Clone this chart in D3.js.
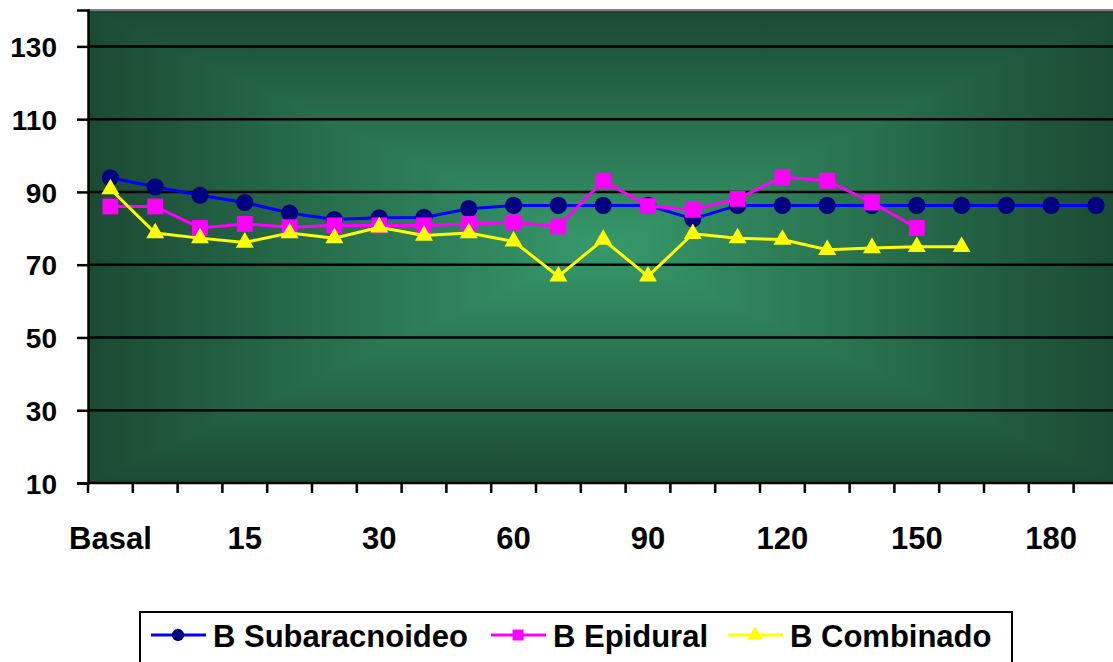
<!DOCTYPE html>
<html>
<head>
<meta charset="utf-8">
<script src="https://cdn.jsdelivr.net/npm/d3@7"></script>
<style>
  body { margin: 0; background: #fff; }
  text { font-family: "Liberation Sans", Arial, sans-serif; font-weight: bold; fill: #000; }
</style>
</head>
<body>
<svg id="chart" width="1113" height="662"></svg>
<script>
/*
****************************************DATA **************************
*/
var categories = ["Basal", "5", "10", "15", "20", "25", "30", "40", "50", "60", "70", "80",
    "90", "100", "110", "120", "130", "140", "150", "160", "170", "180", "190"];
var shownLabels = ["Basal", "15", "30", "60", "90", "120", "150", "180"];
var yTicks = [10, 30, 50, 70, 90, 110, 130];

var subaracnoideo = [93.9, 91.4, 89.1, 87.1, 84.2, 82.4, 82.9, 83.0, 85.4, 86.3, 86.3, 86.3,
    86.3, 82.6, 86.3, 86.3, 86.3, 86.3, 86.3, 86.3, 86.3, 86.3, 86.3];
var epidural = [86.0, 86.0, 80.1, 81.2, 80.3, 80.8, 80.8, 80.8, 81.2, 81.6, 80.5, 93.1,
    86.1, 85.1, 88.1, 94.1, 93.1, 87.1, 80.1];
var combinado = [90.8, 78.7, 77.3, 76.1, 78.7, 77.3, 80.3, 78.0, 78.7, 76.4, 66.8, 76.9,
    66.8, 78.5, 77.3, 76.9, 74.1, 74.6, 74.9, 74.9];

var seriesNames = ["B Subaracnoideo", "B Epidural", "B Combinado"];

/*
****************************************Initial Parameters **************************
*/
var svg = d3.select("#chart"),
    plotL = 88, plotT = 10, plotB = 483,
    plotR = 88 + 23 * 44.8;   // plot is wider than the picture, cut at the edge

var x = d3.scaleBand().domain(categories).range([plotL, plotR]).paddingInner(0).paddingOuter(0);
var y = d3.scaleLinear().domain([10, 140]).range([plotB, plotT]);

/*
****************************** background: rectangular "from center" gradient ************
*/
var defs = svg.append("defs");
var cx = (plotL + plotR) / 2, cy = (plotT + plotB) / 2;
var edgeCol = "#1b4a33", midCol = "#36996b";

function grad(id, x1, y1, x2, y2) {
    var g = defs.append("linearGradient").attr("id", id)
        .attr("gradientUnits", "userSpaceOnUse")
        .attr("x1", x1).attr("y1", y1).attr("x2", x2).attr("y2", y2);
    g.append("stop").attr("offset", 0).attr("stop-color", edgeCol);
    g.append("stop").attr("offset", 1).attr("stop-color", midCol);
}
grad("gTop", cx, plotT, cx, cy);
grad("gBot", cx, plotB, cx, cy);
grad("gLeft", plotL, cy, cx, cy);
grad("gRight", plotR, cy, cx, cy);

var bg = svg.append("g").attr("shape-rendering", "crispEdges");
bg.append("rect").attr("x", plotL).attr("y", plotT).attr("width", plotR - plotL).attr("height", plotB - plotT)
    .attr("fill", "#27704f");
bg.append("polygon").attr("points", [[plotL, plotT], [plotR, plotT], [cx, cy]].join(" ")).attr("fill", "url(#gTop)");
bg.append("polygon").attr("points", [[plotL, plotB], [plotR, plotB], [cx, cy]].join(" ")).attr("fill", "url(#gBot)");
bg.append("polygon").attr("points", [[plotL, plotT], [plotL, plotB], [cx, cy]].join(" ")).attr("fill", "url(#gLeft)");
bg.append("polygon").attr("points", [[plotR, plotT], [plotR, plotB], [cx, cy]].join(" ")).attr("fill", "url(#gRight)");

// grey border on top
svg.append("line").attr("x1", plotL).attr("x2", plotR).attr("y1", plotT).attr("y2", plotT)
    .attr("stroke", "#808080").attr("stroke-width", 2);

/*
****************************** gridlines + axes ************
*/
svg.append("g").selectAll("line").data(yTicks.slice(1)).enter().append("line")
    .attr("x1", plotL).attr("x2", plotR)
    .attr("y1", function (d) { return y(d); }).attr("y2", function (d) { return y(d); })
    .attr("stroke", "#000").attr("stroke-width", 2.5);

var yAxis = d3.axisLeft(y).tickValues(yTicks).tickSize(11).tickPadding(20);
var gy = svg.append("g").attr("transform", "translate(" + plotL + ",0)").call(yAxis);
gy.select(".domain").attr("stroke-width", 2.5);
gy.selectAll(".tick line").attr("stroke-width", 2.5);
gy.selectAll("text").style("font-size", "28px").attr("dy", "0.36em");

var xAxis = d3.axisBottom(x).tickValues(shownLabels).tickSize(0).tickPadding(44);
var gx = svg.append("g").attr("transform", "translate(0," + plotB + ")").call(xAxis);
gx.select(".domain").attr("stroke-width", 2.5).attr("d", "M" + plotL + ",0H" + plotR);
gx.selectAll("text").style("font-size", "31px");

// tick marks at band edges
svg.append("g").selectAll("line").data(categories).enter().append("line")
    .attr("x1", function (d) { return x(d); }).attr("x2", function (d) { return x(d); })
    .attr("y1", plotB).attr("y2", plotB + 10)
    .attr("stroke", "#000").attr("stroke-width", 2.5);

/*
****************************** series ************
*/
var series = [
    { name: seriesNames[0], values: subaracnoideo, line: "#0000ff", fill: "#000080", shape: "circle" },
    { name: seriesNames[1], values: epidural, line: "#ff00ff", fill: "#ff00ff", shape: "square" },
    { name: seriesNames[2], values: combinado, line: "#ffff00", fill: "#ffff00", shape: "triangle" }
];

var symbolOf = {
    circle: d3.symbol().type(d3.symbolCircle).size(230),
    square: d3.symbol().type(d3.symbolSquare).size(250),
    triangle: d3.symbol().type(d3.symbolTriangle).size(140)
};

var line = d3.line()
    .x(function (d, i) { return x(categories[i]) + x.bandwidth() / 2; })
    .y(function (d) { return y(d); });

series.forEach(function (s) {
    svg.append("path").datum(s.values)
        .attr("d", line).attr("fill", "none")
        .attr("stroke", s.line).attr("stroke-width", 3);
    svg.append("g").selectAll("path").data(s.values).enter().append("path")
        .attr("d", symbolOf[s.shape])
        .attr("transform", function (d, i) {
            return "translate(" + (x(categories[i]) + x.bandwidth() / 2) + "," + y(d) + ")";
        })
        .attr("fill", s.fill);
});

/*
****************************** legend ************
*/
var legend = svg.append("g");
legend.append("rect").attr("x", 140).attr("y", 612).attr("width", 872).attr("height", 70)
    .attr("fill", "#fff").attr("stroke", "#000").attr("stroke-width", 2);

var legendX = [151, 491, 728];
var legendSym = {
    circle: d3.symbol().type(d3.symbolCircle).size(120),
    square: d3.symbol().type(d3.symbolSquare).size(120),
    triangle: d3.symbol().type(d3.symbolTriangle).size(100)
};
series.forEach(function (s, i) {
    var lx = legendX[i], ly = 635;
    legend.append("line").attr("x1", lx).attr("x2", lx + 55).attr("y1", ly).attr("y2", ly)
        .attr("stroke", s.line).attr("stroke-width", 3);
    legend.append("path").attr("d", legendSym[s.shape])
        .attr("transform", "translate(" + (lx + 27) + "," + ly + ")")
        .attr("fill", s.fill);
    legend.append("text").attr("x", lx + 62).attr("y", 647)
        .style("font-size", "31px").text(s.name);
});
</script>
</body>
</html>
